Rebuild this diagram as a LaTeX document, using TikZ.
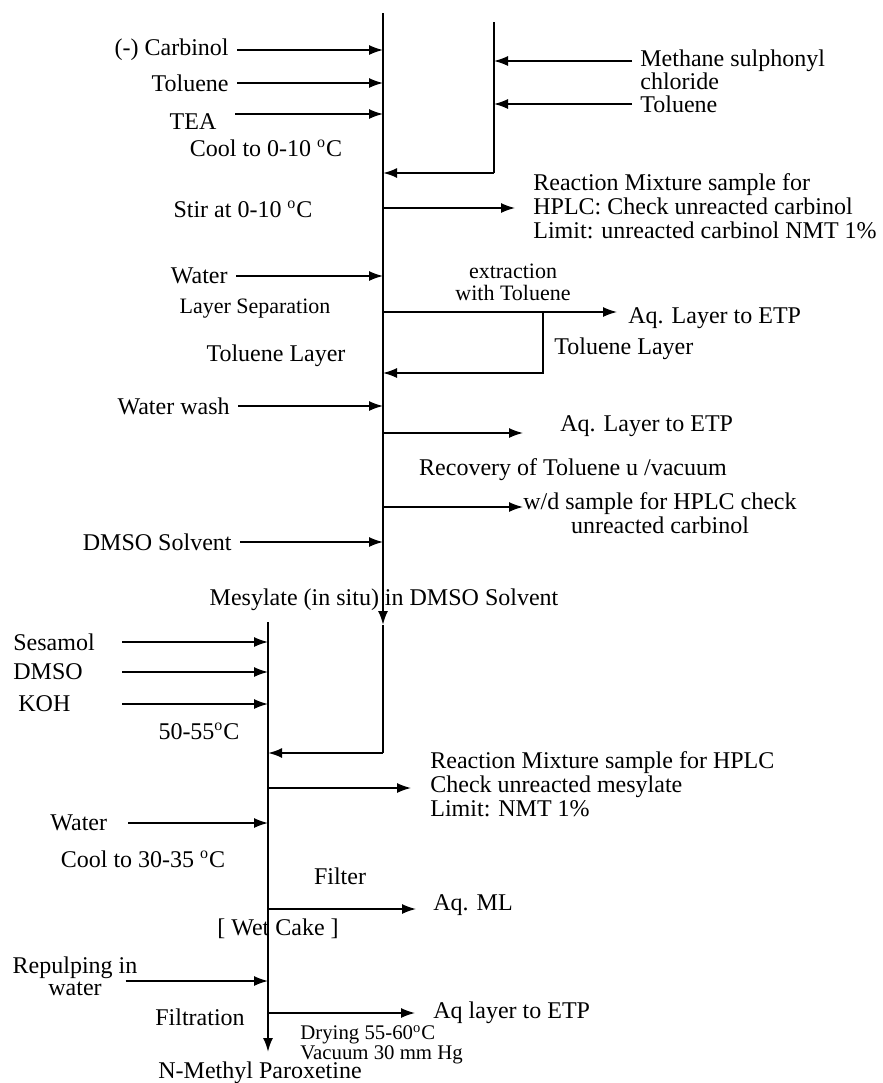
\documentclass[tikz,border=0pt]{standalone}
\usepackage{fontspec}
\setmainfont{Liberation Serif}
\usetikzlibrary{arrows.meta,positioning,calc}

\begin{document}
\begin{tikzpicture}[
    x=0.5pt, y=-0.5pt,
    every node/.style={font=\fontsize{12}{12}\selectfont, inner sep=4pt},
    smalltxt/.style={font=\fontsize{11}{11}\selectfont},
    notetxt/.style={font=\fontsize{10.4}{10}\selectfont},
    stream/.style={line width=1pt},
    arrow/.style={-{Latex[length=7pt,width=5pt]}, line width=0.7pt}
]
\useasboundingbox (0,0) rectangle (883,1083);

% Process lines
\coordinate (aTop) at (383,13);
\coordinate (aMes) at (383,625);
\coordinate (aBot) at (383,753);
\coordinate (bTop) at (494,22);
\coordinate (bBot) at (494,173);
\coordinate (cTop) at (268,622);
\coordinate (cEnd) at (268,1052);

\draw[arrow, stream] (aTop) -- (aMes);
\draw[stream] (aMes) -- (aBot);
\draw[arrow, stream] (aBot) -- (aBot -| cTop);
\draw[stream] (bTop) -- (bBot);
\draw[arrow, stream] (bBot) -- (bBot -| aTop);
\draw[arrow, stream] (cTop) -- (cEnd);

% Mesylation feeds
\node[anchor=east] (carbinol) at (237,50) {(-) Carbinol};
\node[anchor=east] (toluene) at (237,83) {Toluene};
\node (tea) at (193,122) {TEA};
\coordinate (teaTail) at (235,114);
\node (coolA) at (266,148) {Cool to 0-10 \textsuperscript{o}C};
\draw[arrow] (carbinol) -- (carbinol -| aTop);
\draw[arrow] (toluene) -- (toluene -| aTop);
\draw[arrow] (teaTail) -- (teaTail -| aTop);

% Methane sulphonyl chloride line
\coordinate (bMsc) at (494,61);
\node[anchor=north west, align=left, font=\fontsize{12}{10.5}\selectfont] (msc) at (632,41) {Methane sulphonyl\\chloride};
\node[anchor=west] (tolB) at (632,104) {Toluene};
\draw[arrow] (msc.west |- bMsc) -- (bMsc);
\draw[arrow] (tolB) -- (tolB -| bTop);

% Reaction check
\node (stir) at (243,209) {Stir at 0-10 \textsuperscript{o}C};
\coordinate (sampA) at (515,208);
\draw[arrow] (sampA -| aTop) -- (sampA);
\node[anchor=west, align=left] (rxnA) at (525,206) {Reaction Mixture sample for\\HPLC: Check unreacted carbinol\\Limit: unreacted carbinol NMT 1\%};

% Quench and extraction
\node[anchor=east] (water) at (236,276) {Water};
\draw[arrow] (water) -- (water -| aTop);
\node[smalltxt] (laysep) at (255,309) {Layer Separation};
\coordinate (aqATip) at (617,312);
\coordinate (extrJ) at (543,312);
\coordinate (extrB) at (543,373);
\draw[arrow] (aqATip -| aTop) -- (aqATip);
\draw[arrow] (extrJ) -- (extrB) -- (extrB -| aTop);
\node[smalltxt, align=center] (extr) at (513,282) {extraction\\with Toluene};
\node[anchor=west] (aqA) at (620,318) {Aq. Layer to ETP};
\node[anchor=west] (tolR) at (546,349) {Toluene Layer};
\node (tolL) at (276,356) {Toluene Layer};

% Washing and recovery
\node[anchor=east] (wash) at (238,406) {Water wash};
\draw[arrow] (wash) -- (wash -| aTop);
\coordinate (aqBTip) at (523,433);
\draw[arrow] (aqBTip -| aTop) -- (aqBTip);
\node[anchor=west] (aqB) at (552,426) {Aq. Layer to ETP};
\node (recov) at (573,470) {Recovery of Toluene u /vacuum};
\coordinate (wdTip) at (523,507);
\draw[arrow] (wdTip -| aTop) -- (wdTip);
\node[align=center] (wd) at (660,513) {w/d sample for HPLC check\\unreacted carbinol};
\node[anchor=east] (dmsoS) at (240,542) {DMSO Solvent};
\draw[arrow] (dmsoS) -- (dmsoS -| aTop);
\node (mesyl) at (384,600) {Mesylate (in situ) in DMSO Solvent};

% Condensation feeds
\coordinate (feedC) at (122,0);
\node[anchor=west] (sesamol) at (5,642) {Sesamol};
\node[anchor=west] (dmso) at (5,672) {DMSO};
\node[anchor=west] (koh) at (10,704) {KOH};
\draw[arrow] (sesamol -| feedC) -- (sesamol -| cTop);
\draw[arrow] (dmso -| feedC) -- (dmso -| cTop);
\draw[arrow] (koh -| feedC) -- (koh -| cTop);
\node (tempC) at (199,731) {50-55\textsuperscript{o}C};
\coordinate (sampB) at (411,788);
\draw[arrow] (sampB -| cTop) -- (sampB);
\node[anchor=west, align=left] (rxnB) at (422,784) {Reaction Mixture sample for HPLC\\Check unreacted mesylate\\Limit: NMT 1\%};

% Work-up
\coordinate (feedW) at (128,0);
\node[anchor=west] (waterB) at (42,823) {Water};
\draw[arrow] (waterB -| feedW) -- (waterB -| cTop);
\node (coolB) at (143,859) {Cool to 30-35 \textsuperscript{o}C};
\node (filter) at (340,876) {Filter};
\coordinate (mlTip) at (416,909);
\draw[arrow] (mlTip -| cTop) -- (mlTip);
\node[anchor=west] (aqml) at (425,905) {Aq. ML};
\node (wetcake) at (278,929) {[ Wet Cake ]};
\coordinate (feedR) at (125,981);
\node[align=center, font=\fontsize{12}{11}\selectfont] (repulp) at (75,976) {Repulping in\\water};
\draw[arrow] (repulp.east |- feedR) ++(-20,0) -- (feedR -| cTop);
\node (filtr) at (200,1017) {Filtration};
\coordinate (etpTip) at (415,1013);
\draw[arrow] (etpTip -| cTop) -- (etpTip);
\node[anchor=west] (aqC) at (425,1013) {Aq layer to ETP};
\node[notetxt, anchor=west, align=left] (drying) at (292,1045) {Drying 55-60\textsuperscript{o}C\\Vacuum 30 mm Hg};
\node (product) at (260,1073) {N-Methyl Paroxetine};

\end{tikzpicture}
\end{document}
